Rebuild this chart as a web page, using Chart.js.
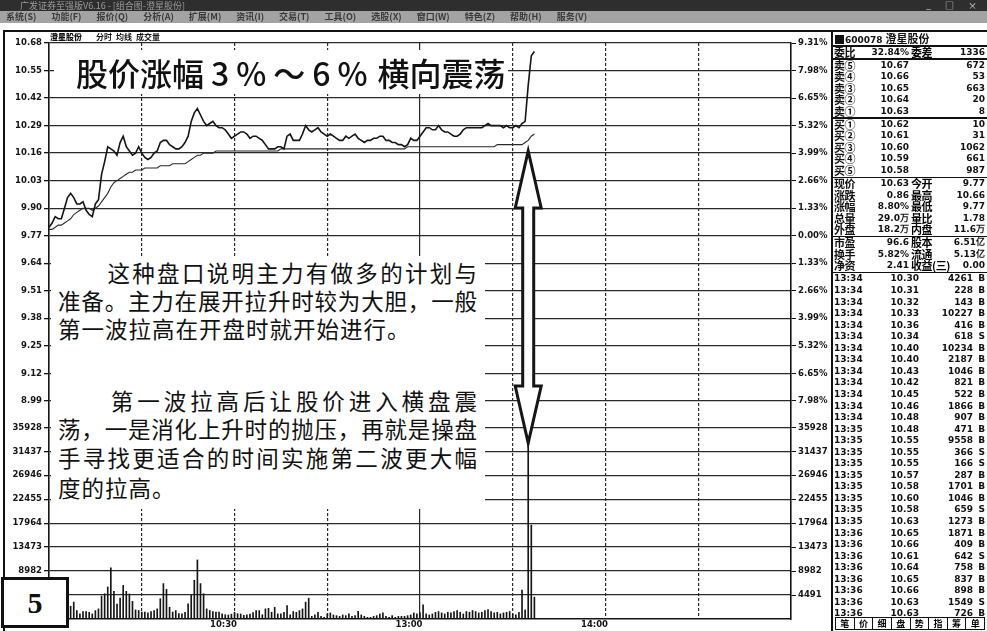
<!DOCTYPE html>
<html lang="zh-CN">
<head>
<meta charset="UTF-8">
<title>澄星股份 分时走势</title>
<script src="https://cdn.jsdelivr.net/npm/chart.js"></script>
<style>
  body { margin:0; width:987px; height:631px; overflow:hidden; background:#fff; position:relative; font-family:"DejaVu Sans", sans-serif; }
  #titlebar { position:absolute; left:0; top:0; width:987px; height:11px; background:#2e2e2e; color:#9c9c9c; font:9px "Noto Sans CJK SC"; line-height:11px; }
  #titlebar .t { position:absolute; left:20px; top:0; }
  #titlebar .btn { position:absolute; right:4px; top:0; color:#ddd; letter-spacing:6px; }
  #menubar { position:absolute; left:0; top:11px; width:987px; height:12px; background:#a3a3a3; font:bold 9px "Noto Sans CJK SC"; line-height:12px; color:#3a3a3a; white-space:nowrap; }
  #menubar span { margin:0 9px 0 6px; }
  #frametop { position:absolute; left:3px; top:30px; width:984px; height:2px; background:#111; }
  #frameleft { position:absolute; left:3px; top:30px; width:2px; height:601px; background:#111; }
  #chartname { position:absolute; left:50px; top:32px; font:bold 8px "Noto Sans CJK SC"; line-height:10px; color:#111; }
  #chartname b { margin-right:14px; }
  #chartname span { margin-right:4px; }
  #wrap { position:absolute; left:0; top:0; width:831px; height:631px; }
  #headline { position:absolute; left:54px; top:50px; width:454px; height:44px; background:#fff; font:500 32px "Noto Sans CJK SC"; line-height:44px; color:#111; padding-left:22px; box-sizing:border-box; white-space:pre; }
  #headline span { letter-spacing:7px; margin-left:7px; margin-right:3px; }
  #note { position:absolute; left:51px; top:256px; width:434px; height:253px; background:#fff; }
  #note div { position:absolute; left:7px; width:419px; height:28px; font:22.5px "Noto Sans CJK SC"; line-height:28px; color:#111; white-space:nowrap; }
  #note div.j { text-align:justify; text-align-last:justify; }
  #page { position:absolute; left:1px; top:577px; width:68px; height:51px; border:3px solid #111; background:#fff; box-sizing:border-box; font:bold 30px "Liberation Serif", serif; line-height:45px; text-align:center; color:#111; }
  #panel { position:absolute; left:831px; top:30px; width:156px; height:601px; border-left:2px solid #111; box-sizing:border-box; }
  #panel .row { position:absolute; left:0; width:154px; height:11.5px; }
  .lab { left:1px; font:bold 11px "Noto Sans CJK SC"; color:#111; letter-spacing:-0.5px; }
  .num { font:bold 9px "DejaVu Sans"; color:#111; }
  .v1 { right:78px; } .l2 { left:78px; font:bold 11px "Noto Sans CJK SC"; letter-spacing:-0.5px; } .v2 { right:2px; }
  .tt { left:1px; } .tp { right:68px; } .tv { right:14px; } .ts { right:2px; }
  #panel .row span { position:absolute; top:0; white-space:nowrap; line-height:11.5px; }
  #panel .sep { position:absolute; left:0; width:154px; height:1.5px; background:#111; }
  #panhead { position:absolute; left:2px; top:1px; height:14px; font:bold 11px "Noto Sans CJK SC"; line-height:14px; color:#111; white-space:nowrap; }
  #panhead i { display:inline-block; width:9px; height:9px; background:#111; margin-right:1px; vertical-align:-1px; }
  #panhead .code { font:bold 9px "DejaVu Sans"; margin-right:3px; }
  #tabs { position:absolute; left:2px; bottom:1px; width:150px; height:13px; display:flex; border:1px solid #111; box-sizing:border-box; }
  #tabs span { flex:1; border-right:1px solid #111; font:bold 9px "Noto Sans CJK SC"; line-height:11px; text-align:center; }
  #tabs span:last-child { border-right:none; }
</style>
</head>
<body>
<div id="wrap"><canvas id="fenshi" width="831" height="631"></canvas></div>

<div id="titlebar"><span class="t">广发证券至强版V6.16 - [组合图-澄星股份]</span><span class="btn">_ □ ×</span></div>
<div id="menubar"></div>
<div id="frametop"></div>
<div id="frameleft"></div>
<div id="chartname"><b>澄星股份</b><span>分时</span><span>均线</span><span>成交量</span></div>

<div id="headline">股价涨幅<span>3%～6%</span>横向震荡</div>

<div id="note">
  <div class="j" style="top:2px">　　这种盘口说明主力有做多的计划与</div>
  <div class="j" style="top:30px">准备。主力在展开拉升时较为大胆，一般</div>
  <div style="top:58px; letter-spacing:1px">第一波拉高在开盘时就开始进行。</div>
  <div class="j" style="top:130px">　　第一波拉高后让股价进入横盘震</div>
  <div class="j" style="top:158px">荡，一是消化上升时的抛压，再就是操盘</div>
  <div class="j" style="top:187px">手寻找更适合的时间实施第二波更大幅</div>
  <div style="top:217px; letter-spacing:1px">度的拉高。</div>
</div>

<div id="page">5</div>

<div id="panel">
  <div id="panhead"><i></i><span class="code">600078</span>澄星股份</div>
  <div id="tabs"></div>
</div>

<script>
// 分时数据：每分钟一个点，从 9:30 开始（0 = 9:30，120 = 13:00，240 = 15:00）
const PREV_CLOSE = 9.77;
const PRICE_TICKS = [10.68, 10.55, 10.42, 10.29, 10.16, 10.03, 9.90, 9.77, 9.64, 9.51, 9.38, 9.25, 9.12, 8.99];
const VOL_TICKS = [35928, 31437, 26946, 22455, 17964, 13473, 8982, 4491];
const TIME_TICKS = [0, 30, 60, 90, 120, 150, 180, 210, 240];
const TIME_LABELS = { 60: '10:30', 120: '13:00', 180: '14:00' };
const P_MIN = 7.96, P_MAX = 10.68;   // 价格轴范围（上半部分刻度）
const VOL_MAX = 108000;              // 成交量轴范围（下半部分刻度）

const price = [
  9.81, 9.83, 9.86, 9.85, 9.85, 9.90, 9.95, 9.97, 9.95, 9.92,
  9.92, 9.93, 9.89, 9.87, 9.86, 9.92, 9.94, 10.06, 10.12, 10.19,
  10.18, 10.17, 10.15, 10.21, 10.24, 10.19, 10.17, 10.15, 10.16, 10.19,
  10.16, 10.14, 10.13, 10.14, 10.16, 10.17, 10.21, 10.22, 10.22, 10.20,
  10.19, 10.18, 10.18, 10.19, 10.21, 10.24, 10.31, 10.35, 10.37, 10.34,
  10.31, 10.29, 10.30, 10.31, 10.29, 10.28, 10.28, 10.27, 10.25, 10.23,
  10.24, 10.25, 10.26, 10.26, 10.25, 10.23, 10.24, 10.24, 10.23, 10.22,
  10.20, 10.18, 10.18, 10.18, 10.19, 10.19, 10.18, 10.24, 10.25, 10.22,
  10.22, 10.22, 10.25, 10.29, 10.27, 10.26, 10.27, 10.28, 10.26, 10.25,
  10.24, 10.25, 10.24, 10.23, 10.22, 10.22, 10.24, 10.23, 10.24, 10.25,
  10.23, 10.22, 10.21, 10.22, 10.22, 10.23, 10.23, 10.24, 10.24, 10.22,
  10.22, 10.21, 10.21, 10.20, 10.20, 10.19, 10.20, 10.23, 10.22, 10.22,
  10.24, 10.26, 10.28, 10.28, 10.27, 10.27, 10.29, 10.27, 10.26, 10.26,
  10.25, 10.24, 10.24, 10.25, 10.27, 10.28, 10.28, 10.28, 10.28, 10.28,
  10.28, 10.29, 10.30, 10.29, 10.29, 10.29, 10.29, 10.28, 10.29, 10.28,
  10.28, 10.29, 10.28, 10.30, 10.31, 10.48, 10.62, 10.64
];
const avgPrice = [
  9.80, 9.80, 9.81, 9.82, 9.82, 9.83, 9.84, 9.85, 9.87, 9.88,
  9.89, 9.90, 9.90, 9.90, 9.89, 9.90, 9.91, 9.93, 9.95, 9.97,
  10.00, 10.02, 10.03, 10.04, 10.05, 10.06, 10.07, 10.07, 10.08, 10.08,
  10.08, 10.09, 10.09, 10.09, 10.09, 10.09, 10.10, 10.10, 10.10, 10.10,
  10.11, 10.11, 10.11, 10.11, 10.11, 10.12, 10.13, 10.14, 10.15, 10.15,
  10.16, 10.16, 10.16, 10.16, 10.17, 10.17, 10.17, 10.17, 10.17, 10.17,
  10.17, 10.17, 10.17, 10.17, 10.17, 10.17, 10.17, 10.17, 10.17, 10.17,
  10.17, 10.17, 10.17, 10.17, 10.17, 10.18, 10.18, 10.18, 10.18, 10.18,
  10.18, 10.18, 10.18, 10.18, 10.18, 10.18, 10.18, 10.18, 10.18, 10.18,
  10.18, 10.18, 10.18, 10.18, 10.18, 10.18, 10.18, 10.18, 10.18, 10.18,
  10.18, 10.18, 10.18, 10.18, 10.18, 10.18, 10.18, 10.18, 10.18, 10.18,
  10.18, 10.18, 10.18, 10.18, 10.18, 10.18, 10.19, 10.19, 10.19, 10.19,
  10.19, 10.19, 10.19, 10.19, 10.19, 10.19, 10.19, 10.19, 10.19, 10.19,
  10.19, 10.19, 10.19, 10.19, 10.19, 10.19, 10.19, 10.19, 10.19, 10.19,
  10.19, 10.19, 10.19, 10.19, 10.19, 10.20, 10.20, 10.20, 10.20, 10.20,
  10.20, 10.20, 10.20, 10.20, 10.21, 10.22, 10.24, 10.25
];
const volume = [
  6000, 3200, 2500, 1800, 2100, 2600, 3000, 2400, 3160, 1580,
  950, 1400, 1400, 1260, 950, 1580, 1900, 4300, 4740, 6000,
  9600, 5190, 2800, 3900, 6300, 5190, 4700, 3300, 1700, 1600,
  1300, 1300, 1150, 1400, 1580, 1900, 3800, 6640, 5570, 2200,
  1300, 1580, 1000, 950, 1260, 2850, 4430, 7270, 11070, 6640,
  4740, 1900, 1600, 1400, 1300, 1300, 950, 800, 760, 900,
  1260, 1000, 950, 700, 760, 900, 1200, 1580, 1580, 800,
  1900, 2000, 1260, 2200, 950, 950, 1260, 2500, 760, 1400,
  1260, 1580, 1900, 3160, 3900, 500, 760, 1260, 500, 320,
  950, 1140, 760, 630, 500, 760, 630, 950, 500, 630,
  1450, 760, 500, 320, 320, 500, 630, 950, 1140, 500,
  320, 630, 320, 500, 500, 500, 630, 760, 1140, 950,
  1140, 2650, 950, 760, 950, 1260, 1400, 1140, 950, 1260,
  1140, 1400, 1580, 1260, 950, 1400, 1260, 1580, 1400, 1140,
  1260, 1580, 1770, 1400, 1140, 1260, 950, 1140, 1260, 1400,
  950, 760, 1260, 5400, 1700, 33000, 17600, 4100
];

// 箭头标注：从均线附近指向放量的那根成交量柱
const ARROW_AT = 155, ARROW_FROM_PRICE = 10.17, ARROW_TO_VOL = 33000;

// 右侧盘口
const MENU = ['系统(S)', '功能(F)', '报价(Q)', '分析(A)', '扩展(M)', '资讯(I)', '交易(T)', '工具(O)', '选股(X)', '窗口(W)', '特色(Z)', '帮助(H)', '服务(V)'];
const HEAD_ROW = ['委比', '32.84%', '委差', '1336'];
const ASK = [['卖⑤', '10.67', '672'], ['卖④', '10.66', '53'], ['卖③', '10.65', '663'], ['卖②', '10.64', '20'], ['卖①', '10.63', '8']];
const BID = [['买①', '10.62', '10'], ['买②', '10.61', '31'], ['买③', '10.60', '1062'], ['买④', '10.59', '661'], ['买⑤', '10.58', '987']];
const QUOTE = [['现价', '10.63', '今开', '9.77'], ['涨跌', '0.86', '最高', '10.66'], ['涨幅', '8.80%', '最低', '9.77'],
               ['总量', '29.0万', '量比', '1.78'], ['外盘', '18.2万', '内盘', '11.6万']];
const FUND = [['市盈', '96.6', '股本', '6.51亿'], ['换手', '5.82%', '流通', '5.13亿'], ['净资', '2.41', '收益(三)', '0.00']];
const TRADE_TIME = ['13:34','13:34','13:34','13:34','13:34','13:34','13:34','13:34','13:34','13:34','13:34','13:34','13:34',
                    '13:35','13:35','13:35','13:35','13:35','13:35','13:35','13:35','13:35',
                    '13:36','13:36','13:36','13:36','13:36','13:36','13:36','13:36'];
const TRADE_PRICE = ['10.30','10.31','10.32','10.33','10.36','10.34','10.40','10.40','10.43','10.42','10.45','10.46','10.48',
                     '10.48','10.55','10.55','10.55','10.57','10.58','10.60','10.58','10.63',
                     '10.65','10.66','10.61','10.64','10.65','10.66','10.63','10.63'];
const TRADE_VOL = ['4261','228','143','10227','416','618','10234','2187','1046','821','522','1866','907',
                   '471','9558','366','166','287','1701','1046','659','1273',
                   '1871','409','642','758','837','898','1549','726'];
const TRADE_SIDE = ['B','B','B','B','B','S','B','B','B','B','B','B','B',
                    'B','B','S','S','B','B','B','S','B',
                    'B','B','S','B','B','B','S','B'];
const TABS = ['笔', '价', '细', '盘', '势', '指', '筹', '单'];

// ---- 菜单与盘口 ----
document.getElementById('menubar').innerHTML = MENU.map(m => '<span>' + m + '</span>').join('');
document.getElementById('tabs').innerHTML = TABS.map(t => '<span>' + t + '</span>').join('');

const panel = document.getElementById('panel');
const RH = 11.55;
let py = 15;
function sep() {
  const d = document.createElement('div');
  d.className = 'sep'; d.style.top = py + 'px';
  panel.appendChild(d); py += 1.5;
}
function row(cells) {
  const r = document.createElement('div');
  r.className = 'row'; r.style.top = py + 'px';
  cells.forEach(c => {
    const s = document.createElement('span');
    s.className = c[1]; s.textContent = c[0];
    r.appendChild(s);
  });
  panel.appendChild(r); py += RH;
}
sep();
row([[HEAD_ROW[0], 'lab'], [HEAD_ROW[1], 'num v1'], [HEAD_ROW[2], 'l2'], [HEAD_ROW[3], 'num v2']]);
sep();
ASK.forEach(a => row([[a[0], 'lab'], [a[1], 'num v1'], [a[2], 'num v2']]));
sep();
BID.forEach(a => row([[a[0], 'lab'], [a[1], 'num v1'], [a[2], 'num v2']]));
sep();
QUOTE.forEach(q => row([[q[0], 'lab'], [q[1], 'num v1'], [q[2], 'l2'], [q[3], 'num v2']]));
sep();
FUND.forEach(q => row([[q[0], 'lab'], [q[1], 'num v1'], [q[2], 'l2'], [q[3], 'num v2']]));
sep();
TRADE_TIME.forEach((t, i) => row([[t, 'num tt'], [TRADE_PRICE[i], 'num tp'], [TRADE_VOL[i], 'num tv'], [TRADE_SIDE[i], 'num ts']]));

// ---- 分时图 ----
const minutes = price.map((_, i) => i);
// 成交量刻度在价格轴上对应的位置
const volToPriceAxis = v => P_MIN + v / VOL_MAX * (P_MAX - P_MIN);

const axisFont = { family: 'DejaVu Sans', size: 8.5, weight: 'bold' };
const INK = '#151515';

function leftTicks(scale) {
  scale.ticks = PRICE_TICKS.map(p => ({ value: p, lbl: p.toFixed(2) }))
    .concat(VOL_TICKS.map(v => ({ value: volToPriceAxis(v), lbl: String(v) })));
}
function rightTicks(scale) {
  scale.ticks = PRICE_TICKS.map(p => ({ value: p, lbl: (Math.abs(p - PREV_CLOSE) / PREV_CLOSE * 100).toFixed(2) + '%' }))
    .concat(VOL_TICKS.map(v => ({ value: volToPriceAxis(v), lbl: String(v) })));
}

const arrowPlugin = {
  id: 'arrow',
  afterDraw(chart) {
    const { ctx, scales } = chart;
    const x = scales.x.getPixelForValue(ARROW_AT);
    const top = scales.yP.getPixelForValue(ARROW_FROM_PRICE);
    const bot = scales.yV.getPixelForValue(ARROW_TO_VOL);
    const head = 57, hw = 13, sw = 5.5;
    ctx.save();
    ctx.beginPath();
    ctx.moveTo(x, top);
    ctx.lineTo(x + hw, top + head);
    ctx.lineTo(x + sw, top + head);
    ctx.lineTo(x + sw, bot - head);
    ctx.lineTo(x + hw, bot - head);
    ctx.lineTo(x, bot);
    ctx.lineTo(x - hw, bot - head);
    ctx.lineTo(x - sw, bot - head);
    ctx.lineTo(x - sw, top + head);
    ctx.lineTo(x - hw, top + head);
    ctx.closePath();
    ctx.fillStyle = '#fff';
    ctx.fill();
    ctx.lineWidth = 3;
    ctx.strokeStyle = INK;
    ctx.stroke();
    ctx.restore();
  }
};

new Chart(document.getElementById('fenshi'), {
  data: {
    datasets: [
      { type: 'line', label: '价格', data: minutes.map(t => ({ x: t, y: price[t] })), yAxisID: 'yP',
        borderColor: INK, borderWidth: 1.6, pointRadius: 0, tension: 0 },
      { type: 'line', label: '均价', data: minutes.map(t => ({ x: t, y: avgPrice[t] })), yAxisID: 'yP',
        borderColor: '#2a2a2a', borderWidth: 1.1, pointRadius: 0, tension: 0 },
      { type: 'bar', label: '成交量', data: minutes.map(t => ({ x: t, y: volume[t] })), yAxisID: 'yV',
        backgroundColor: INK, barThickness: 1, grouped: false }
    ]
  },
  options: {
    responsive: false,
    animation: false,
    layout: { padding: { top: 43, left: 0, right: 0, bottom: 0 } },
    plugins: { legend: { display: false }, tooltip: { enabled: false } },
    scales: {
      x: {
        type: 'linear', min: 0, max: 240, offset: false,
        afterBuildTicks: s => { s.ticks = TIME_TICKS.map(v => ({ value: v })); },
        afterFit: s => { s.height = 12; },
        ticks: { autoSkip: false, maxRotation: 0, padding: 1, labelOffset: -11, color: INK, font: axisFont,
                 callback: v => TIME_LABELS[v] || '' },
        grid: { color: '#2a2a2a', lineWidth: 1.2, drawTicks: false, offset: false },
        border: { display: true, color: INK, width: 1.5,
                  dash: c => (c.type === 'tick' && c.tick && c.tick.value % 120 !== 0) ? [3, 2] : [] }
      },
      yP: {
        position: 'left', min: P_MIN, max: P_MAX,
        afterBuildTicks: leftTicks,
        afterFit: s => { s.width = 49; },
        ticks: { autoSkip: false, padding: 2, color: INK, font: axisFont, callback: (v, i, t) => t[i].lbl },
        grid: { color: '#2a2a2a', lineWidth: 1.3, tickLength: 5, tickColor: INK },
        border: { color: INK, width: 1.5 }
      },
      yR: {
        position: 'right', min: P_MIN, max: P_MAX,
        afterBuildTicks: rightTicks,
        afterFit: s => { s.width = 40; },
        ticks: { autoSkip: false, padding: 2, color: INK, font: axisFont, callback: (v, i, t) => t[i].lbl },
        grid: { drawOnChartArea: false, tickLength: 5, tickColor: INK },
        border: { color: INK, width: 1.5 }
      },
      yV: { display: false, min: 0, max: VOL_MAX }
    }
  },
  plugins: [arrowPlugin]
});
</script>
</body>
</html>
